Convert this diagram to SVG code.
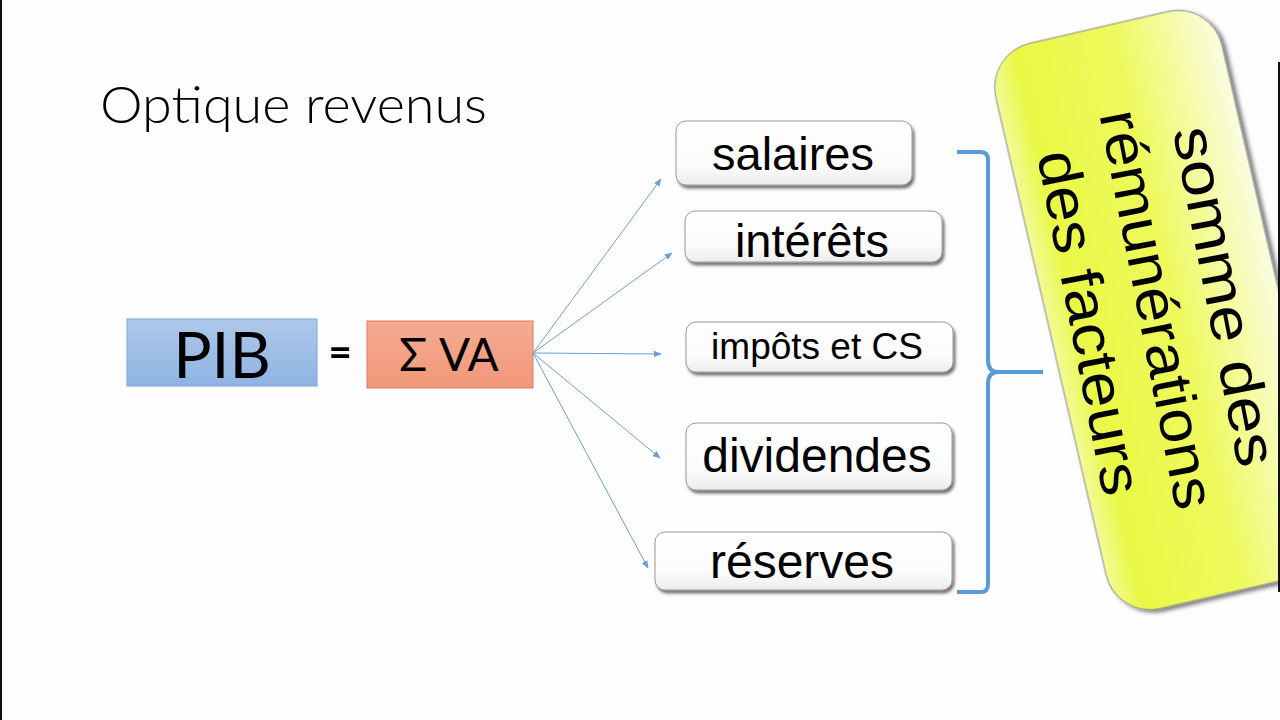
<svg xmlns="http://www.w3.org/2000/svg" width="1280" height="720" viewBox="0 0 1280 720">
  <defs>
    <style>
      .box { fill: url(#boxGrad); stroke: #9a9a9a; stroke-width: 1; filter: url(#nodeShadow); }
      .lbl { font-family: "Liberation Sans", Arial, sans-serif; fill: #000; text-anchor: middle; }
      .cal { font-family: Lato, "Open Sans", sans-serif; fill: #000; }
      .arrow { stroke: #6e9dd3; stroke-width: 1; fill: none; marker-end: url(#ah); }
      .brace { stroke: #5b9bd5; stroke-width: 4; fill: none; stroke-linecap: butt; stroke-linejoin: round; }
      .ytext { font-family: "Liberation Sans", Arial, sans-serif; font-size: 58px; fill: #000; text-anchor: middle; }
    </style>
    <linearGradient id="boxGrad" x1="0" y1="0" x2="0" y2="1">
      <stop offset="0" stop-color="#ffffff"/>
      <stop offset="0.7" stop-color="#fbfbfb"/>
      <stop offset="1" stop-color="#ececec"/>
    </linearGradient>
    <linearGradient id="pibGrad" x1="0" y1="0" x2="0" y2="1">
      <stop offset="0" stop-color="#aec8ea"/>
      <stop offset="1" stop-color="#8fb4e3"/>
    </linearGradient>
    <linearGradient id="vaGrad" x1="0" y1="0" x2="0" y2="1">
      <stop offset="0" stop-color="#f5ac92"/>
      <stop offset="1" stop-color="#f19778"/>
    </linearGradient>
    <linearGradient id="yelGrad" x1="0" y1="0" x2="1" y2="0">
      <stop offset="0" stop-color="#f2fb9a"/>
      <stop offset="0.12" stop-color="#e9f845"/>
      <stop offset="0.55" stop-color="#eef95c"/>
      <stop offset="1" stop-color="#fafde0"/>
    </linearGradient>
    <filter id="nodeShadow" x="-10%" y="-20%" width="125%" height="150%">
      <feDropShadow dx="2" dy="3" stdDeviation="1.5" flood-color="#000" flood-opacity="0.55"/>
    </filter>
    <filter id="yelShadow" x="-10%" y="-10%" width="125%" height="125%">
      <feDropShadow dx="3" dy="3" stdDeviation="2" flood-color="#000" flood-opacity="0.55"/>
    </filter>
    <marker id="ah" viewBox="0 0 10 10" refX="9" refY="5" markerWidth="8" markerHeight="8" markerUnits="userSpaceOnUse" orient="auto">
      <path d="M0,1 L10,5 L0,9 Z" fill="#6e9dd3"/>
    </marker>
  </defs>

  <rect x="0" y="0" width="1280" height="720" fill="#fdfdfd"/>
  <rect x="0" y="0" width="2" height="720" fill="#111"/>

  <g id="title">
    <text class="cal" x="100" y="123" font-size="52" font-weight="300" textLength="387" lengthAdjust="spacingAndGlyphs">Optique revenus</text>
  </g>

  <g id="pib">
    <rect x="127" y="319" width="190" height="67" fill="url(#pibGrad)" stroke="#7ea6da" stroke-width="1"/>
    <text class="cal" x="222" y="378" font-size="64" text-anchor="middle">PIB</text>
  </g>

  <g id="equals">
    <text class="cal" x="340" y="366" font-size="40" font-weight="bold" text-anchor="middle">=</text>
  </g>

  <g id="sigma-va">
    <rect x="367" y="321" width="166" height="67" fill="url(#vaGrad)" stroke="#e07a5c" stroke-width="1"/>
    <text class="cal" x="449" y="371" font-size="46" text-anchor="middle">Σ VA</text>
  </g>

  <g id="connectors">
    <line class="arrow" x1="533" y1="353" x2="661" y2="179"/>
    <line class="arrow" x1="533" y1="353" x2="672" y2="253"/>
    <line class="arrow" x1="533" y1="353" x2="661" y2="354"/>
    <line class="arrow" x1="533" y1="353" x2="660" y2="458"/>
    <line class="arrow" x1="533" y1="353" x2="648" y2="568"/>
  </g>

  <g id="salaires">
    <rect class="box" x="676" y="121" width="236" height="64" rx="10"/>
    <text class="lbl" x="793" y="170" font-size="47">salaires</text>
  </g>
  <g id="interets">
    <rect class="box" x="685" y="211" width="257" height="51" rx="10"/>
    <text class="lbl" x="812" y="257" font-size="47">intérêts</text>
  </g>
  <g id="impots">
    <rect class="box" x="686" y="322" width="267" height="50" rx="10"/>
    <text class="lbl" x="817" y="359" font-size="37">impôts et CS</text>
  </g>
  <g id="dividendes">
    <rect class="box" x="686" y="423" width="266" height="67" rx="10"/>
    <text class="lbl" x="817" y="472" font-size="48">dividendes</text>
  </g>
  <g id="reserves">
    <rect class="box" x="655" y="532" width="297" height="58" rx="10"/>
    <text class="lbl" x="802" y="578" font-size="48">réserves</text>
  </g>

  <g id="brace">
    <path class="brace" d="M957,152 L981,152 Q988,152 988,160 L988,360 Q988,372 998,372 L1043,372"/>
    <path class="brace" d="M998,372 Q988,372 988,384 L988,584 Q988,592 981,592 L957,592"/>
  </g>

  <g id="somme">
    <g transform="translate(1164,310) rotate(-13)">
      <rect x="-116" y="-290" width="232" height="580" rx="45" fill="url(#yelGrad)" stroke="#8a8a8a" stroke-width="1" filter="url(#yelShadow)"/>
    </g>
    <g transform="translate(1138,313) rotate(79)">
      <text class="ytext" x="0" y="-69" textLength="345" lengthAdjust="spacingAndGlyphs">somme des</text>
      <text class="ytext" x="0" y="0" textLength="405" lengthAdjust="spacingAndGlyphs">rémunérations</text>
      <text class="ytext" x="0" y="69" textLength="350" lengthAdjust="spacingAndGlyphs">des facteurs</text>
    </g>
  </g>

  <rect x="1278" y="62" width="2" height="530" fill="#111"/>
</svg>
